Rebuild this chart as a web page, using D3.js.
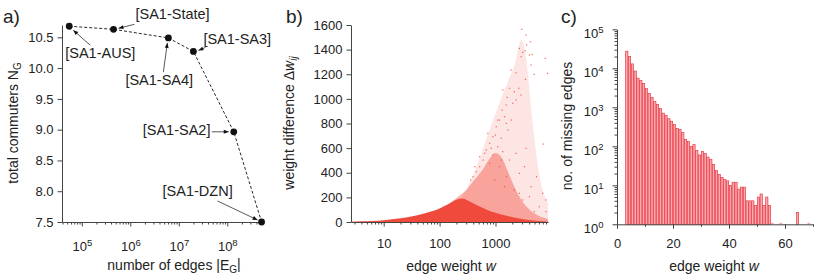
<!DOCTYPE html>
<html>
<head>
<meta charset="utf-8">
<script src="https://cdn.jsdelivr.net/npm/d3@7"></script>
<style>
  body { margin: 0; background: #fff; }
  svg text { font-family: "Liberation Sans", Arial, Helvetica, sans-serif; fill: #222; }
</style>
</head>
<body>
<div id="chart"></div>
<script>
/**
 * DATA
 * */
// a) commuters vs number of edges, one point per aggregation level
const aNames = ["[SA1-AUS]", "[SA1-State]", "[SA1-SA4]", "[SA1-SA3]", "[SA1-SA2]", "[SA1-DZN]"];
const aEdges = [5.5e4, 4.5e5, 6.1e6, 2.0e7, 1.36e8, 5.1e8];
const aCommuters = [10.68, 10.63, 10.49, 10.27, 8.965, 7.5];

// b) weight difference vs edge weight, density envelopes [w, dw] + sparse points
const bCoreTop = [[2.6, 3], [4, 6], [6, 9], [10, 15], [20, 30], [40, 55], [70, 85], [100, 110], [150, 150],
  [200, 180], [250, 190], [320, 175], [450, 140], [700, 100], [1000, 75], [1600, 50], [2500, 30],
  [4000, 16], [6000, 8], [8700, 3]];
const bMidTop = [[150, 150], [200, 195], [300, 260], [400, 330], [600, 430], [800, 520], [1000, 560],
  [1300, 520], [1700, 400], [2500, 230], [3500, 130], [5000, 70], [8700, 25]];
const bLightTop = [[250, 200], [400, 380], [600, 600], [800, 760], [1000, 880], [1300, 1020], [1700, 1150],
  [2200, 1280], [2900, 1480], [3600, 1300], [4500, 850], [6000, 400], [8700, 150]];
const bPoints = [[2945, 1565], [3520, 1518], [4200, 1464], [3610, 1437], [2680, 1410], [3380, 1391],
  [3070, 1378], [4040, 1356], [4510, 1361], [2870, 1342], [7760, 1329], [4320, 1275], [8530, 1207],
  [1905, 1234], [4940, 1199], [2340, 1212], [3430, 1158], [1780, 1086], [2610, 1086], [2180, 1058],
  [2870, 1031], [1620, 1012], [1320, 909], [1560, 950], [2340, 991], [1450, 855], [1910, 828],
  [1180, 828], [1030, 774], [1660, 747], [900, 693], [1270, 680], [785, 639], [1100, 611], [687, 585],
  [1350, 571], [900, 544], [597, 503], [785, 476], [1780, 503], [1180, 449], [522, 449], [3520, 598],
  [7150, 633], [2680, 395], [2180, 260], [4040, 205], [6070, 124], [7980, 84], [456, 408], [397, 368],
  [1560, 368], [1450, 287], [3070, 179], [4940, 84], [964, 341], [1350, 1072], [2040, 964], [1100, 828],
  [1560, 801], [730, 720], [1000, 706], [840, 598], [640, 558], [522, 530], [1270, 503], [2340, 558],
  [3300, 449], [5420, 368], [6980, 233], [4320, 287], [2680, 233], [7980, 179], [430, 449], [360, 341]];

// c) histogram of missing edges per integer weight bin
const cBins = [3, 4, 5, 6, 7, 8, 9, 10, 11, 12, 13, 14, 15, 16, 17, 18, 19, 20, 21, 22, 23, 24, 25, 26,
  27, 28, 29, 30, 31, 32, 33, 34, 35, 36, 37, 38, 39, 40, 41, 42, 43, 44, 45, 46, 47, 48, 49, 50, 51,
  52, 53, 54, 55, 56, 57, 58, 59, 60, 61, 62, 63, 64, 65, 66, 67, 68, 69];
const cCounts = [27500, 20000, 13000, 8500, 5600, 4900, 4100, 3000, 2250, 1800, 1400, 1170, 930, 710,
  620, 510, 440, 360, 290, 270, 225, 150, 134, 100, 110, 79, 60, 74, 65, 53, 46, 34, 24, 19, 16, 14,
  13, 10, 12, 12, 8, 9, 9, 4, 4, 4, 3, 5, 6, 3, 5, 3, 1, 0, 0, 1, 0, 0, 0, 0, 0, 2, 0, 0, 0, 1, 0];

/**
 * SETUP
 * */
const width = 830, height = 275;
const axisColor = "#444";
const red = "#f04a3c";

const svg = d3.select("#chart").append("svg")
  .attr("width", width)
  .attr("height", height);

svg.append("defs").append("marker")
  .attr("id", "arr")
  .attr("viewBox", "0 0 10 10")
  .attr("refX", 10).attr("refY", 5)
  .attr("markerWidth", 6).attr("markerHeight", 5)
  .attr("markerUnits", "userSpaceOnUse")
  .attr("orient", "auto")
  .append("path").attr("d", "M0,1 L10,5 L0,9 z").attr("fill", "#111");

function styleAxis(g) {
  g.select(".domain").attr("stroke", axisColor).attr("stroke-width", 1);
  g.selectAll(".tick line").attr("stroke", axisColor);
  g.selectAll(".tick text").attr("font-size", 13).attr("fill", "#222")
    .style("font-family", "'Liberation Sans', Arial, sans-serif");
}
function superLabels(g) {
  g.selectAll(".tick text").each(function(d) {
    const t = d3.select(this);
    t.text(null);
    t.append("tspan").text("10");
    t.append("tspan").attr("dy", "-0.5em").attr("font-size", 9.5).text(Math.round(Math.log10(d)));
  });
}
function isPow10(v) { return Math.abs(Math.log10(v) - Math.round(Math.log10(v))) < 1e-9; }

/**
 * PANEL A
 * */
const xA = d3.scaleLog().domain([3.9e4, 5.2e8]).range([62, 262]);
const yA = d3.scaleLinear().domain([7.5, 10.7]).range([222, 25]);

svg.append("g").attr("transform", "translate(0,222)")
  .call(d3.axisBottom(xA).tickValues(xA.ticks().filter(v => !isPow10(v))).tickSize(2.5).tickFormat(""))
  .call(g => g.select(".domain").remove())
  .call(styleAxis);
svg.append("g").attr("transform", "translate(0,222)")
  .call(d3.axisBottom(xA).tickValues(xA.ticks().filter(isPow10)).tickSize(4.5).tickSizeOuter(0).tickPadding(15))
  .call(styleAxis)
  .call(superLabels);
svg.append("g").attr("transform", "translate(62,0)")
  .call(d3.axisLeft(yA).ticks(7).tickFormat(d3.format(".1f")).tickSize(4.5).tickSizeOuter(0).tickPadding(4))
  .call(styleAxis);

const aData = aNames.map((n, i) => ({ name: n, e: aEdges[i], c: aCommuters[i] }));
svg.append("path")
  .datum(aData)
  .attr("fill", "none")
  .attr("stroke", "#111")
  .attr("stroke-width", 0.9)
  .attr("stroke-dasharray", "3,2")
  .attr("d", d3.line().x(d => xA(d.e)).y(d => yA(d.c)));

// label offsets relative to each point: text (tx,ty), arrow start (sx,sy), arrow end (ex,ey)
const aLayout = [
  { tx: -4, ty: 32, sx: 21, sy: 19, ex: 4, ey: 4 },
  { tx: 22, ty: -10, sx: 21, sy: -5, ex: 5, ey: -1 },
  { tx: -43, ty: 47, sx: -5, sy: 34, ex: -1, ey: 5 },
  { tx: 10, ty: -7, sx: 12, sy: -4, ex: 5, ey: -1 },
  { tx: -91, ty: 3, sx: -22, sy: 0, ex: -5, ey: 0 },
  { tx: -99, ty: -26, sx: -44, sy: -21, ex: -4, ey: -2 }
];
aData.forEach((d, i) => {
  const px = xA(d.e), py = yA(d.c), L = aLayout[i];
  svg.append("line")
    .attr("x1", px + L.sx).attr("y1", py + L.sy)
    .attr("x2", px + L.ex).attr("y2", py + L.ey)
    .attr("stroke", "#111").attr("stroke-width", 0.7)
    .attr("marker-end", "url(#arr)");
  svg.append("text")
    .attr("x", px + L.tx).attr("y", py + L.ty)
    .attr("font-size", 14.5)
    .text(d.name);
});
svg.selectAll("circle.pt")
  .data(aData)
  .join("circle")
  .attr("class", "pt")
  .attr("cx", d => xA(d.e))
  .attr("cy", d => yA(d.c))
  .attr("r", 3.4)
  .attr("fill", "#111");

/**
 * PANEL B
 * */
const xB = d3.scaleLog().domain([2.6, 8700]).range([351, 548]);
const yB = d3.scaleLinear().domain([0, 1600]).range([222, 25]);

const area = d3.area().x(d => xB(d[0])).y0(yB(0)).y1(d => yB(d[1])).curve(d3.curveMonotoneX);
svg.append("path").datum(bLightTop).attr("d", area).attr("fill", red).attr("opacity", 0.14);
svg.append("path").datum(bMidTop).attr("d", area).attr("fill", red).attr("opacity", 0.42);
svg.append("path").datum(bCoreTop).attr("d", area).attr("fill", red);
svg.selectAll("rect.dot")
  .data(bPoints)
  .join("rect")
  .attr("class", "dot")
  .attr("x", d => xB(d[0]) - 0.6)
  .attr("y", d => yB(d[1]) - 0.6)
  .attr("width", 1.2).attr("height", 1.2)
  .attr("fill", red).attr("opacity", 0.85);

svg.append("g").attr("transform", "translate(0,222)")
  .call(d3.axisBottom(xB).tickValues(xB.ticks().filter(v => !isPow10(v))).tickSize(2.5).tickFormat(""))
  .call(g => g.select(".domain").remove())
  .call(styleAxis);
svg.append("g").attr("transform", "translate(0,222)")
  .call(d3.axisBottom(xB).tickValues(xB.ticks().filter(isPow10)).tickSize(4.5).tickSizeOuter(0)
    .tickPadding(12).tickFormat(d3.format("d")))
  .call(styleAxis);
svg.append("g").attr("transform", "translate(351,0)")
  .call(d3.axisLeft(yB).ticks(8).tickFormat(d3.format("d")).tickSize(4.5).tickSizeOuter(0).tickPadding(4))
  .call(styleAxis);

/**
 * PANEL C
 * */
const xC = d3.scaleLinear().domain([0, 70]).range([617, 813]);
const yC = d3.scaleLog().domain([1, 1e5]).range([224.3, 29.3]);
const cData = cBins.map((b, i) => ({ b: b, n: cCounts[i] })).filter(d => d.n > 0);

svg.selectAll("rect.fillbar")
  .data(cData)
  .join("rect")
  .attr("class", "fillbar")
  .attr("x", d => xC(d.b))
  .attr("width", d => xC(d.b + 1) - xC(d.b))
  .attr("y", d => Math.min(yC(d.n), yC(1) - 1.5))
  .attr("height", d => Math.max(yC(1) - yC(d.n), 1.5))
  .attr("fill", "#f9aab0");
svg.selectAll("rect.outbar")
  .data(cData.filter(d => d.n > 1))
  .join("rect")
  .attr("class", "outbar")
  .attr("x", d => xC(d.b) + 0.3)
  .attr("width", d => xC(d.b + 1) - xC(d.b) - 0.6)
  .attr("y", d => yC(d.n))
  .attr("height", d => yC(1) - yC(d.n))
  .attr("fill", "none")
  .attr("stroke", "#e8303a")
  .attr("stroke-width", 0.6);

svg.append("g").attr("transform", "translate(0,224.3)")
  .call(d3.axisBottom(xC).tickValues(xC.ticks(7).filter(v => v % 20 !== 0)).tickSize(2.5).tickFormat(""))
  .call(g => g.select(".domain").remove())
  .call(styleAxis);
svg.append("g").attr("transform", "translate(0,224.3)")
  .call(d3.axisBottom(xC).ticks(4).tickSize(4.5).tickSizeOuter(0).tickPadding(10))
  .call(styleAxis);
svg.append("g").attr("transform", "translate(617,0)")
  .call(d3.axisLeft(yC).tickValues(yC.ticks().filter(v => !isPow10(v))).tickSize(2.5).tickFormat(""))
  .call(g => g.select(".domain").remove())
  .call(styleAxis);
svg.append("g").attr("transform", "translate(617,0)")
  .call(d3.axisLeft(yC).tickValues(yC.ticks().filter(isPow10)).tickSize(4.5).tickSizeOuter(0).tickPadding(9))
  .call(styleAxis)
  .call(superLabels)
  .call(g => g.selectAll(".tick text").attr("dy", "0.62em"));

/**
 * TITLES
 * */
[["a)", 3], ["b)", 286], ["c)", 561]].forEach(([t, x]) => {
  svg.append("text").attr("x", x).attr("y", 23).attr("font-size", 19).text(t);
});

const tA = svg.append("text").attr("x", 174).attr("y", 270).attr("text-anchor", "middle").attr("font-size", 14);
tA.append("tspan").text("number of edges |E");
tA.append("tspan").attr("font-size", 10).attr("dy", "0.3em").text("G");
tA.append("tspan").attr("dy", "-0.3em").text("|");

const tAy = svg.append("text").attr("transform", "translate(18,123) rotate(-90)")
  .attr("text-anchor", "middle").attr("font-size", 14);
tAy.append("tspan").text("total commuters N");
tAy.append("tspan").attr("font-size", 10).attr("dy", "0.3em").text("G");

const tB = svg.append("text").attr("x", 451).attr("y", 271).attr("text-anchor", "middle").attr("font-size", 14);
tB.append("tspan").text("edge weight ");
tB.append("tspan").attr("font-style", "italic").text("w");

const tBy = svg.append("text").attr("transform", "translate(294,123) rotate(-90)")
  .attr("text-anchor", "middle").attr("font-size", 14);
tBy.append("tspan").text("weight difference \u0394");
tBy.append("tspan").attr("font-style", "italic").text("w");
tBy.append("tspan").attr("font-style", "italic").attr("font-size", 10).attr("dy", "0.3em").text("ij");

const tC = svg.append("text").attr("x", 714).attr("y", 271).attr("text-anchor", "middle").attr("font-size", 14);
tC.append("tspan").text("edge weight ");
tC.append("tspan").attr("font-style", "italic").text("w");

svg.append("text").attr("transform", "translate(572,126) rotate(-90)")
  .attr("text-anchor", "middle").attr("font-size", 14)
  .text("no. of missing edges");
</script>
</body>
</html>
